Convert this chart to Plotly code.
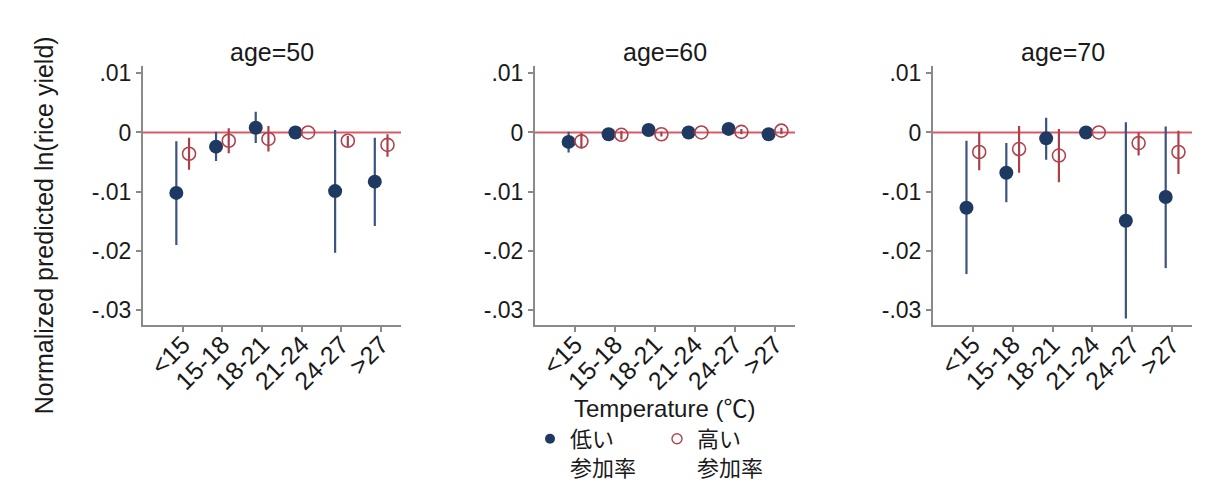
import plotly.graph_objects as go

categories = ["<15", "15-18", "18-21", "21-24", "24-27", ">27"]
ages = ["age=50", "age=60", "age=70"]

# 低い参加率 (filled) : estimate, lower CI, upper CI
age50_low = [-0.0102, -0.0024, 0.0008, 0.0, -0.0099, -0.0083]
age50_low_lo = [-0.0190, -0.0048, -0.0018, 0.0, -0.0203, -0.0158]
age50_low_hi = [-0.0015, 0.0001, 0.0035, 0.0, 0.0004, -0.0009]
# 高い参加率 (hollow)
age50_high = [-0.0036, -0.0014, -0.0011, 0.0, -0.0014, -0.0021]
age50_high_lo = [-0.0063, -0.0035, -0.0032, 0.0, -0.0024, -0.0041]
age50_high_hi = [-0.0009, 0.0007, 0.0011, 0.0, -0.0006, -0.0003]

age60_low = [-0.0016, -0.0003, 0.0004, 0.0, 0.0006, -0.0003]
age60_low_lo = [-0.0034, -0.0006, 0.0001, 0.0, 0.0003, -0.0006]
age60_low_hi = [0.0001, 0.0000, 0.0007, 0.0, 0.0009, 0.0000]
age60_high = [-0.0015, -0.0004, -0.0003, 0.0, 0.0001, 0.0003]
age60_high_lo = [-0.0027, -0.0012, -0.0007, 0.0, -0.0003, -0.0003]
age60_high_hi = [-0.0001, 0.0003, 0.0001, 0.0, 0.0006, 0.0008]

age70_low = [-0.0127, -0.0068, -0.0010, 0.0, -0.0149, -0.0109]
age70_low_lo = [-0.0239, -0.0118, -0.0046, 0.0, -0.0314, -0.0229]
age70_low_hi = [-0.0014, -0.0018, 0.0025, 0.0, 0.0017, 0.0010]
age70_high = [-0.0033, -0.0028, -0.0039, 0.0, -0.0018, -0.0033]
age70_high_lo = [-0.0064, -0.0068, -0.0084, 0.0, -0.0039, -0.0070]
age70_high_hi = [0.0000, 0.0011, 0.0006, 0.0, 0.0000, 0.0003]

y_tickvals = [0.01, 0.0, -0.01, -0.02, -0.03]
y_ticktext = [".01", "0", "-.01", "-.02", "-.03"]

series_low = [(age50_low, age50_low_lo, age50_low_hi),
              (age60_low, age60_low_lo, age60_low_hi),
              (age70_low, age70_low_lo, age70_low_hi)]
series_high = [(age50_high, age50_high_lo, age50_high_hi),
               (age60_high, age60_high_lo, age60_high_hi),
               (age70_high, age70_high_lo, age70_high_hi)]

W, H = 1210, 489
FONT = "Liberation Sans, Arial, Noto Sans CJK JP, sans-serif"
BLUE = "#1f3a62"
BLUE_BAR = "#3b5380"
RED = "#b0444e"
RED_BAR = "#a9404a"
REFLINE = "#d85a66"
AXIS = "#8a8a8a"

x_domains_px = [(143, 401), (535, 795), (933, 1192)]
y_dom = [1 - 323 / H, 1 - 61 / H]

fig = go.Figure()
idx = list(range(1, len(categories) + 1))
off = 0.16

for p in range(3):
    xa = "x" if p == 0 else f"x{p+1}"
    ya = "y" if p == 0 else f"y{p+1}"
    v, lo, hi = series_low[p]
    fig.add_trace(go.Scatter(
        x=[i - off for i in idx], y=v, mode="markers", xaxis=xa, yaxis=ya,
        marker=dict(symbol="circle", size=14, color=BLUE),
        error_y=dict(type="data", symmetric=False,
                     array=[h - c for h, c in zip(hi, v)],
                     arrayminus=[c - l for c, l in zip(v, lo)],
                     width=0, thickness=2.2, color=BLUE_BAR),
        showlegend=False))
    v, lo, hi = series_high[p]
    fig.add_trace(go.Scatter(
        x=[i + off for i in idx], y=v, mode="markers", xaxis=xa, yaxis=ya,
        marker=dict(symbol="circle-open", size=13, color=RED, line=dict(width=1.6, color=RED)),
        error_y=dict(type="data", symmetric=False,
                     array=[h - c for h, c in zip(hi, v)],
                     arrayminus=[c - l for c, l in zip(v, lo)],
                     width=0, thickness=2.2, color=RED_BAR),
        showlegend=False))
    fig.add_shape(type="line", xref=f"{xa} domain", yref=ya, x0=0, x1=1, y0=0, y1=0,
                  line=dict(color=REFLINE, width=2), layer="below")

# legend-only entries
fig.add_trace(go.Scatter(x=[None], y=[None], mode="markers", name="低い<br>参加率",
                         marker=dict(symbol="circle", size=10, color=BLUE)))
fig.add_trace(go.Scatter(x=[None], y=[None], mode="markers", name="高い<br>参加率",
                         marker=dict(symbol="circle-open", size=10, color=RED, line=dict(width=1.4, color=RED))))

layout = dict(
    width=W, height=H, margin=dict(l=0, r=0, t=0, b=0),
    paper_bgcolor="white", plot_bgcolor="white",
    font=dict(family=FONT, size=21, color="#1a1a1a"),
    showlegend=True,
    legend=dict(orientation="h", x=530 / W, y=1 - 417 / H, xanchor="left", yanchor="top",
                font=dict(size=22), valign="top", entrywidth=82, entrywidthmode="pixels",
                bgcolor="rgba(0,0,0,0)", tracegroupgap=0, itemclick=False),
)
for p in range(3):
    xk = "xaxis" if p == 0 else f"xaxis{p+1}"
    yk = "yaxis" if p == 0 else f"yaxis{p+1}"
    a, b = x_domains_px[p]
    layout[xk] = dict(domain=[a / W, b / W], range=[0.0, 6.5], tickvals=idx, ticktext=categories,
                      tickangle=-45, ticks="outside", ticklen=5, tickcolor=AXIS, tickwidth=1.5,
                      showline=True, linecolor=AXIS, linewidth=2, showgrid=False, zeroline=False,
                      ticklabelstandoff=-12,
                      tickfont=dict(size=25), anchor="y" if p == 0 else f"y{p+1}", fixedrange=True)
    layout[yk] = dict(domain=y_dom, range=[-0.0325, 0.01117], tickvals=y_tickvals, ticktext=y_ticktext,
                      ticks="outside", ticklen=5, tickcolor=AXIS, tickwidth=1.5,
                      showline=True, linecolor=AXIS, linewidth=2, showgrid=False, zeroline=False,
                      tickfont=dict(size=23), anchor="x" if p == 0 else f"x{p+1}", fixedrange=True)
fig.update_layout(**layout)

ann = []
for p in range(3):
    a, b = x_domains_px[p]
    ann.append(dict(text=ages[p], x=(a + b) / 2 / W, y=1 - 47 / H, xref="paper", yref="paper",
                    showarrow=False, font=dict(size=25), xanchor="center", yanchor="middle"))
ann.append(dict(text="Temperature (℃)", x=665 / W, y=1 - 408 / H, xref="paper", yref="paper",
                showarrow=False, font=dict(size=24), xanchor="center", yanchor="middle"))
ann.append(dict(text="Normalized predicted ln(rice yield)", x=44 / W, y=1 - 222 / H, xref="paper",
                yref="paper", showarrow=False, textangle=-90, font=dict(size=25),
                xanchor="center", yanchor="middle"))
fig.update_layout(annotations=ann)

fig.write_html("out.html", config={"displayModeBar": False},
               post_script="document.body.style.margin='0';document.body.style.overflow='hidden';")
